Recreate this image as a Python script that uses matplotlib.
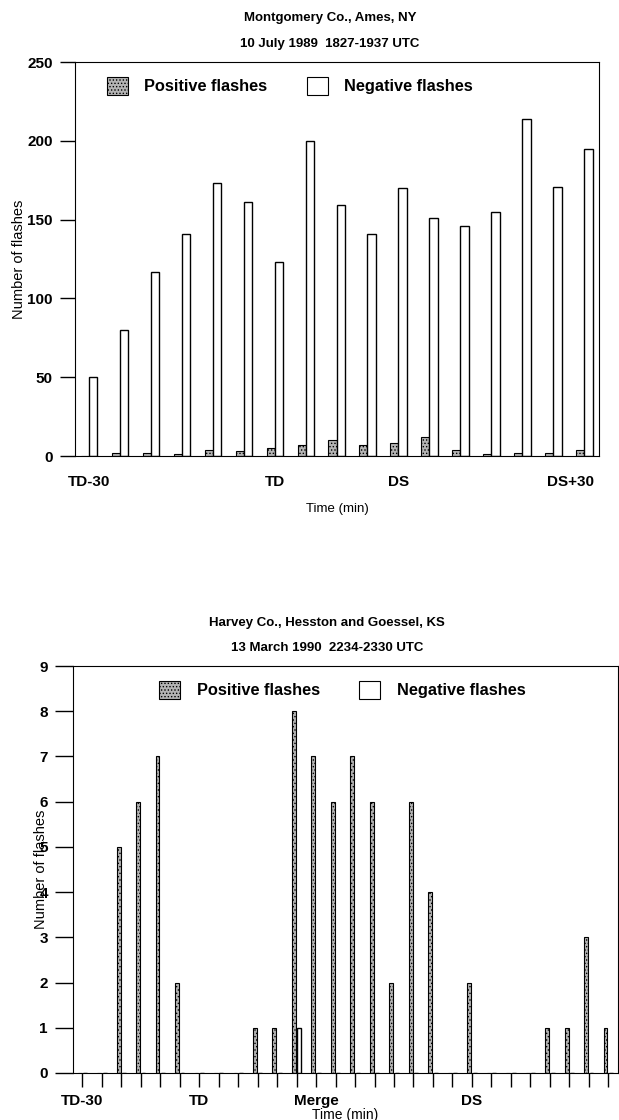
import matplotlib.pyplot as plt
import numpy as np
from matplotlib.patches import Patch
from matplotlib.transforms import ScaledTranslation

plt.rcParams['font.family'] = ['Liberation Sans', 'DejaVu Sans']
plt.rcParams['font.weight'] = 'bold'
plt.rcParams['hatch.linewidth'] = 0.6

# Montgomery Co. storm, 5-min bins from TD-30
ames_pos = [0, 2, 2, 1, 4, 3, 5, 7, 10, 7, 8, 12, 4, 1, 2, 2, 4]
ames_neg = [50, 80, 117, 141, 173, 161, 123, 200, 159, 141, 170, 151, 146, 155, 214, 171, 195]
ames_tick_idx = [0, 6, 10, 16]
ames_tick_lbl = ['TD-30', 'TD', 'DS', 'DS+30']

# Harvey Co. storm, 5-min bins from TD-30
harvey_pos = [0, 0, 5, 6, 7, 2, 0, 0, 0, 1, 1, 8, 7, 6, 7, 6, 2, 6, 4, 0, 2, 0, 0, 0, 1, 1, 3, 1]
harvey_neg = [0, 0, 0, 0, 0, 0, 0, 0, 0, 0, 0, 1, 0, 0, 0, 0, 0, 0, 0, 0, 0, 0, 0, 0, 0, 0, 0, 0]
harvey_tick_idx = [0, 6, 12, 20]
harvey_tick_lbl = ['TD-30', 'TD', 'Merge', 'DS']

pos_style = dict(color='#b4b4b4', hatch='.....', edgecolor='black', linewidth=0.8)
neg_style = dict(color='white', edgecolor='black', linewidth=1.0)

fig = plt.figure(figsize=(6.19, 11.2), dpi=100)
W, H = 619, 1120

# ---- top panel
ax1 = fig.add_axes([75/W, 1 - 456/H, 524/W, 394/H])
x1 = np.arange(len(ames_pos))
ax1.bar(x1, ames_pos, width=-0.26, align='edge', **pos_style)
ax1.bar(x1, ames_neg, width=0.27, align='edge', **neg_style)
ax1.set_xlim(-0.45, 16.48)
ax1.set_ylim(0, 250)
ax1.set_yticks(np.arange(0, 251, 50))
ax1.set_xticks(ames_tick_idx)
ax1.set_xticklabels(ames_tick_lbl)
ax1.tick_params(axis='y', direction='out', length=11, width=1, labelsize=11, pad=5)
ax1.tick_params(axis='x', length=0, labelsize=11, pad=14)
# last label sits a bit left of its bin
lbl = ax1.get_xticklabels()[-1]
lbl.set_transform(lbl.get_transform() + ScaledTranslation(-0.14, 0, fig.dpi_scale_trans))
ax1.set_xlabel('Time (min)', fontsize=9.5, labelpad=10)
ax1.set_ylabel('Number of flashes', fontsize=10.5)
ax1.yaxis.set_label_coords(-0.094, 0.5)

handles = [Patch(facecolor='#b4b4b4', hatch='.....', edgecolor='black', linewidth=0.8, label='Positive flashes'),
           Patch(facecolor='white', edgecolor='black', linewidth=0.8, label='Negative flashes')]
ax1.legend(handles=handles, loc='upper center', bbox_to_anchor=(0.41, 1.0), ncol=2, frameon=False,
           fontsize=11.8, handlelength=1.3, handleheight=1.3, handletextpad=1.0, columnspacing=2.4)

fig.text(330/W, 1 - 18/H, 'Montgomery Co., Ames, NY', ha='center', va='center', fontsize=9.5)
fig.text(330/W, 1 - 44/H, '10 July 1989  1827-1937 UTC', ha='center', va='center', fontsize=9.5)

# ---- bottom panel
ax2 = fig.add_axes([73/W, 1 - 1073/H, 545/W, 407/H])
x2 = np.arange(len(harvey_pos))
ax2.bar(x2 - 0.04, harvey_pos, width=-0.2, align='edge', **pos_style)
ax2.bar(x2 + 0.04, harvey_neg, width=0.2, align='edge', **neg_style)
ax2.set_xlim(-0.48, 27.5)
ax2.set_ylim(0, 9)
ax2.set_yticks(np.arange(0, 10, 1))
ax2.set_xticks(x2)
ax2.set_xticklabels([harvey_tick_lbl[harvey_tick_idx.index(i)] if i in harvey_tick_idx else '' for i in x2])
ax2.tick_params(axis='y', direction='out', length=13, width=1, labelsize=11, pad=5)
ax2.tick_params(axis='x', direction='out', length=10, width=1, labelsize=11, pad=5)
ax2.set_xlabel('Time (min)', fontsize=10, labelpad=0)
ax2.set_ylabel('Number of flashes', fontsize=10.5)
ax2.yaxis.set_label_coords(-0.046, 0.5)
ax2.legend(handles=handles, loc='upper center', bbox_to_anchor=(0.494, 1.0), ncol=2, frameon=False,
           fontsize=11.8, handlelength=1.3, handleheight=1.3, handletextpad=1.0, columnspacing=2.4)

fig.text(327/W, 1 - 623/H, 'Harvey Co., Hesston and Goessel, KS', ha='center', va='center', fontsize=9.5)
fig.text(327/W, 1 - 648/H, '13 March 1990  2234-2330 UTC', ha='center', va='center', fontsize=9.5)

fig.savefig('out.png', dpi=100)
